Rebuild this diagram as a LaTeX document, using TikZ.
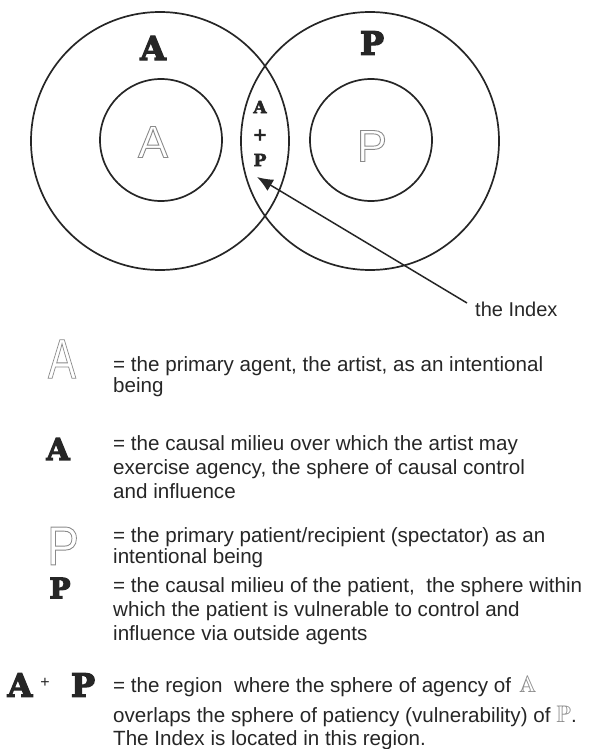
\documentclass[tikz,border=0pt]{standalone}
\usepackage{fontspec}
\usepackage{amssymb}
\usepackage{graphicx}
\usetikzlibrary{arrows.meta}
\setmainfont{Liberation Sans}
\newfontfamily\slab{DejaVu Serif}
\definecolor{ink}{HTML}{262626}
\definecolor{hollowgray}{HTML}{8A8A8A}
% outlined letter: glyph stroked only (text render mode 1)
\newcommand\hollowglyph[1]{\textcolor{hollowgray}{\special{pdf:literal direct 0.9 w 1 Tr}#1\special{pdf:literal direct 0 Tr}}}
% heavy letter: glyph filled and stroked (text render mode 2)
\newcommand\heavyglyph[2]{\special{pdf:literal direct #1 w 2 Tr}#2\special{pdf:literal direct 0 Tr}}
\newcommand\bbgray[1]{\textcolor{hollowgray}{$\mathbb{#1}$}}

\begin{document}
\begin{tikzpicture}[x=1pt,y=-1pt,
  ring/.style={circle, draw=ink, line width=1.7pt, inner sep=0pt},
  slabletter/.style={inner sep=0pt, text=ink},
  hollow/.style={inner sep=0pt},
  legend/.style={anchor=base west, inner sep=0pt, text=ink,
    font=\fontsize{20.6}{24}\selectfont},
]
\useasboundingbox (0,0) rectangle (599,749);

% the two spheres and their cores
\node[ring, minimum size=258pt] (outerA) at (160,141) {};
\node[ring, minimum size=258pt] (outerP) at (370,141) {};
\node[ring, minimum size=122pt] (innerA) at (161,140) {};
\node[ring, minimum size=122pt] (innerP) at (371,140) {};

\node[slabletter, font=\slab\bfseries\fontsize{33}{33}\selectfont] (bigA) at (153,48) {\heavyglyph{1.3}{A}};
\node[slabletter, font=\slab\bfseries\fontsize{32}{32}\selectfont] (bigP) at (372,43) {\heavyglyph{1.3}{P}};

\node[hollow, font=\fontsize{45}{45}\selectfont] (coreA) at (153,142) {\hollowglyph{A}};
\node[hollow, font=\fontsize{45}{45}\selectfont] (coreP) at (372,146) {\hollowglyph{P}};

% overlap region
\node[slabletter, font=\slab\bfseries\fontsize{17}{17}\selectfont] (lensA) at (260,107) {\heavyglyph{0.6}{A}};
\node[slabletter, font=\slab\bfseries\fontsize{17}{17}\selectfont] (lensPlus) at (260,135) {\heavyglyph{0.4}{+}};
\node[slabletter, font=\slab\bfseries\fontsize{17}{17}\selectfont] (lensP) at (260,160) {\heavyglyph{0.6}{P}};

% pointer to the index
\node[legend, font=\fontsize{20}{24}\selectfont] (index) at (475,316) {the Index};
\coordinate (tail) at (467,303);
\coordinate (tip) at (257,177);
\draw[ink, line width=1.5pt, -{Latex[length=16pt,width=13pt]}] (tail) -- (tip);

% key
\node[hollow, font=\fontsize{56}{56}\selectfont] (keyA) at (62,359) {\scalebox{0.75}[1]{\hollowglyph{A}}};
\node[legend] (k1a) at (113,371) {= the primary agent, the artist, as an intentional};
\node[legend] (k1b) at (113,392) {being};

\node[slabletter, font=\slab\bfseries\fontsize{30}{30}\selectfont] (keyBigA) at (58,449) {\heavyglyph{1.2}{A}};
\node[legend] (k2a) at (113,450) {= the causal milieu over which the artist may};
\node[legend] (k2b) at (113,474) {exercise agency, the sphere of causal control};
\node[legend] (k2c) at (113,498) {and influence};

\node[hollow, font=\fontsize{55}{55}\selectfont] (keyP) at (63,546) {\scalebox{0.87}[1]{\hollowglyph{P}}};
\node[legend] (k3a) at (113,542) {= the primary patient/recipient (spectator) as an};
\node[legend] (k3b) at (113,563) {intentional being};

\node[slabletter, font=\slab\bfseries\fontsize{28}{28}\selectfont] (keyBigP) at (60,588) {\heavyglyph{1.2}{P}};
\node[legend] (k4a) at (113,592) {= the causal milieu of the patient,\ \ the sphere within};
\node[legend] (k4b) at (113,616) {which the patient is vulnerable to control and};
\node[legend] (k4c) at (113,640) {influence via outside agents};

\node[slabletter, font=\slab\bfseries\fontsize{32}{32}\selectfont] (sumA) at (20,685) {\heavyglyph{1.3}{A}};
\node[slabletter, font=\fontsize{16}{16}\selectfont] (sumPlus) at (45,683) {+};
\node[slabletter, font=\slab\bfseries\fontsize{32}{32}\selectfont] (sumP) at (83,685) {\heavyglyph{1.3}{P}};
\node[legend] (k5a) at (113,692) {= the region\ \ where the sphere of agency of\hspace{8pt}{\fontsize{24}{24}\selectfont\bbgray{A}}};
\node[legend] (k5b) at (113,722) {overlaps the sphere of patiency (vulnerability) of {\fontsize{24}{24}\selectfont\bbgray{P}}.};
\node[legend] (k5c) at (113,745) {The Index is located in this region.};
\end{tikzpicture}
\end{document}
